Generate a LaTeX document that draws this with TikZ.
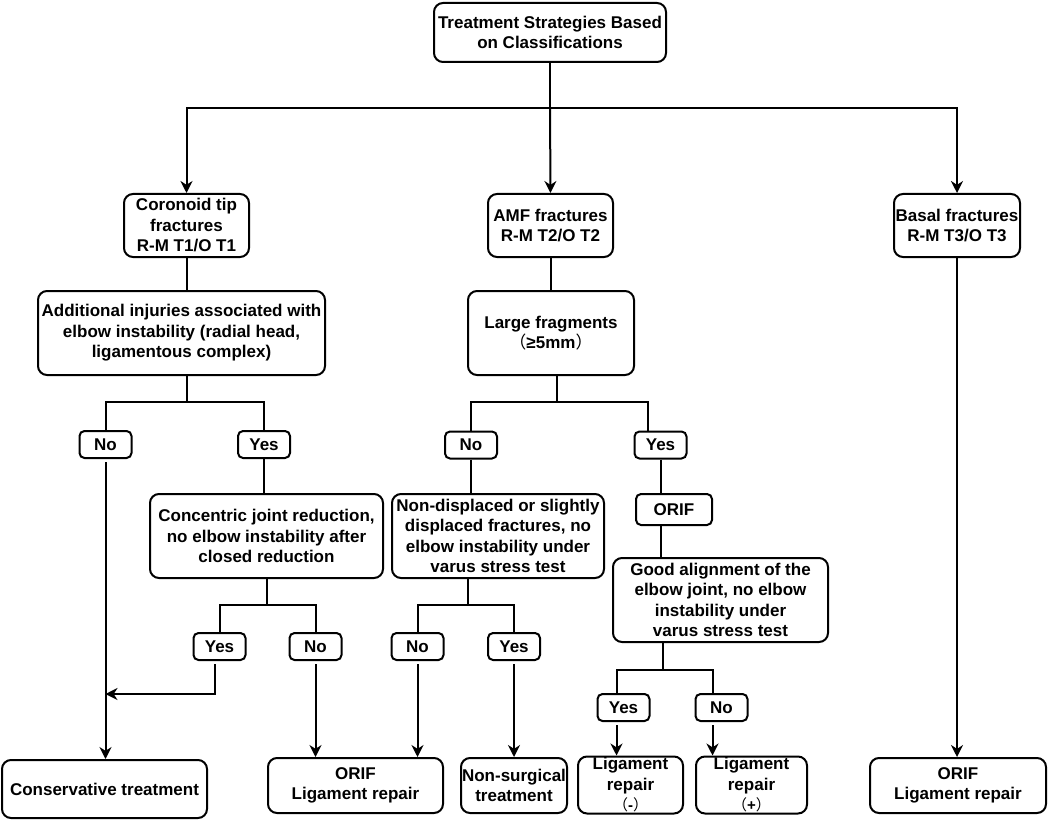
\documentclass[tikz,border=0pt]{standalone}
\usepackage{fontspec}
\setmainfont{Liberation Sans}
\newfontfamily\cjk{Noto Sans CJK SC}
\newcommand{\lpar}{{\cjk\mdseries （}}
\newcommand{\rpar}{{\cjk\mdseries ）}}
\usetikzlibrary{arrows.meta}
\begin{document}
\begin{tikzpicture}[x=1pt,y=-1pt,
  box/.style={draw, line width=2pt, rounded corners=9pt, align=center, inner sep=0pt,
    font=\fontsize{17}{20.5}\selectfont\bfseries},
  sbox/.style={box, rounded corners=5pt, minimum width=52pt, minimum height=27pt},
  conn/.style={line width=2pt},
  arr/.style={conn, -{Stealth[length=12pt,width=12pt]}},
  sarr/.style={arr, shorten <=3pt}]
\useasboundingbox (0,0) rectangle (1049,821);

% boxes
\node[box, minimum width=232pt, minimum height=59pt] (top) at (550,32.5) {Treatment Strategies Based\\on Classifications};
\node[box, minimum width=125pt, minimum height=63pt] (cor) at (186.5,225.5) {Coronoid tip\\fractures\\R-M T1/O T1};
\node[box, minimum width=125pt, minimum height=63pt] (amf) at (550.5,225.5) {AMF fractures\\R-M T2/O T2};
\node[box, minimum width=126pt, minimum height=63pt] (bas) at (957,225.5) {Basal fractures\\R-M T3/O T3};
\node[box, minimum width=287pt, minimum height=84pt] (add) at (181.5,333) {Additional injuries associated with\\elbow instability (radial head,\\ligamentous complex)};
\node[box, minimum width=166pt, minimum height=84pt] (lf) at (551,333) {Large fragments\\\lpar≥5mm\rpar};
\node[sbox] (no1) at (105.5,444.5) {No};
\node[sbox] (yes1) at (264,444.5) {Yes};
\node[box, minimum width=233pt, minimum height=84pt] (conc) at (266.5,536) {Concentric joint reduction,\\no elbow instability after\\closed reduction};
\node[sbox] (no2) at (471,445) {No};
\node[sbox] (yes2) at (660.5,445) {Yes};
\node[box, minimum width=212pt, minimum height=84pt] (nd) at (498,536) {Non-displaced or slightly\\displaced fractures, no\\elbow instability under\\varus stress test};
\node[box, rounded corners=5pt, minimum width=76pt, minimum height=31pt] (orif) at (674,509.5) {ORIF};
\node[box, minimum width=215pt, minimum height=84pt] (good) at (720.5,600) {Good alignment of the\\elbow joint, no elbow\\instability under\\varus stress test};
\node[sbox] (yes3) at (219.5,646.5) {Yes};
\node[sbox] (no3) at (315.5,646.5) {No};
\node[sbox] (no4) at (417.5,646.5) {No};
\node[sbox] (yes4) at (514,646.5) {Yes};
\node[sbox] (yes5) at (623.5,707.5) {Yes};
\node[sbox] (no5) at (721.5,707.5) {No};
\node[box, minimum width=205pt, minimum height=58pt] (cons) at (104.5,789) {Conservative treatment};
\node[box, minimum width=175pt, minimum height=55pt] (orifl) at (355.5,785.5) {ORIF\\Ligament repair};
\node[box, minimum width=106pt, minimum height=55pt] (ns) at (514,785.5) {Non-surgical\\treatment};
\node[box, minimum width=105pt, minimum height=57pt] (lm) at (630.5,785) {Ligament\\repair\\{\fontsize{15}{16}\selectfont\lpar-\rpar}};
\node[box, minimum width=111pt, minimum height=57pt] (lp) at (751.5,785) {Ligament\\repair\\{\fontsize{15}{16}\selectfont\lpar+\rpar}};
\node[box, minimum width=176pt, minimum height=55pt] (bor) at (958,785.5) {ORIF\\Ligament repair};

% junctions
\coordinate (t0) at (550,108);
\coordinate (b1) at (187,402);
\coordinate (b2) at (557,402);
\coordinate (b3) at (267,605);
\coordinate (b4) at (468,605);
\coordinate (b5) at (663,670);
\coordinate (j1) at (105.5,694);
\coordinate (y3) at ([xshift=-5pt]yes3.south);
\coordinate (y2n) at ([xshift=-13pt]yes2.north);
\coordinate (y5n) at ([xshift=-7pt]yes5.north);
\coordinate (y5) at ([xshift=-7pt]yes5.south);
\coordinate (n5n) at ([xshift=-9pt]no5.north);
\coordinate (n5) at ([xshift=-9pt]no5.south);

% top level
\draw[conn] (top.south) -- (t0);
\draw[arr] (t0) -| (cor.north);
\draw[arr] (t0) -- (amf.north);
\draw[arr] (t0) -| (bas.north);
\draw[conn] (cor.south) -- (cor.south |- add.north);
\draw[conn] (amf.south) -- (amf.south |- lf.north);
\draw[arr] (bas.south) -- (bas.south |- bor.north);

% left branch
\draw[conn] (add.south -| b1) -- (b1) -| (no1.north);
\draw[conn] (b1) -| (yes1.north);
\draw[sarr] (no1.south) -- (no1.south |- cons.north);
\draw[conn] (yes1.south) -- (yes1.south |- conc.north);
\draw[conn] (conc.south -| b3) -- (b3) -| (yes3.north);
\draw[conn] (b3) -| (no3.north);
\draw[sarr] (y3) |- (j1);
\draw[sarr] (no3.south) -- (no3.south |- orifl.north);

% middle branch
\draw[conn] (lf.south -| b2) -- (b2) -| (no2.north);
\draw[conn] (b2) -| (y2n);
\draw[conn] (no2.south) -- (no2.south |- nd.north);
\draw[conn] (yes2.south) -- (yes2.south |- orif.north);
\draw[conn] (orif.south -| yes2.south) -- (yes2.south |- good.north);
\draw[conn] (nd.south -| b4) -- (b4) -| (no4.north);
\draw[conn] (b4) -| (yes4.north);
\draw[sarr] (no4.south) -- (no4.south |- orifl.north);
\draw[sarr] (yes4.south) -- (yes4.south |- ns.north);
\draw[conn] (good.south -| b5) -- (b5) -| (y5n);
\draw[conn] (b5) -| (n5n);
\draw[sarr] (y5) -- (y5 |- lm.north);
\draw[sarr] (n5) -- (n5 |- lp.north);
\end{tikzpicture}
\end{document}
